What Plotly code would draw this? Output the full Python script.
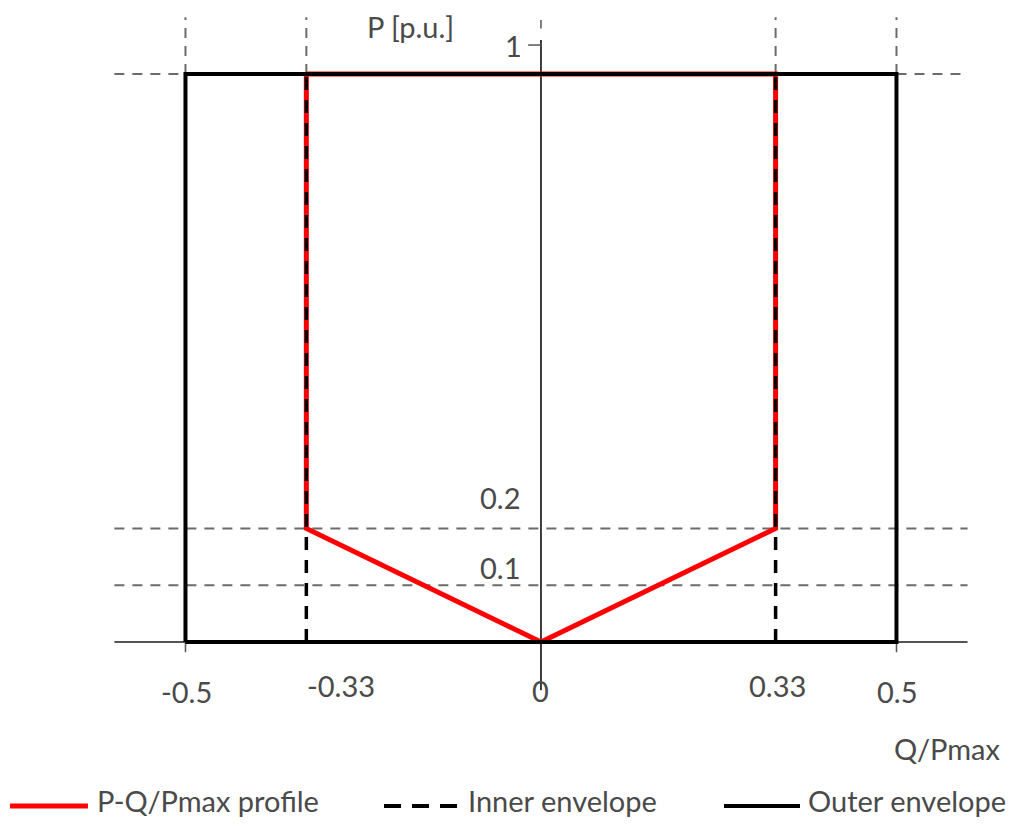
import plotly.graph_objects as go

# P-Q capability diagram data
q_outer = [-0.5, -0.5, 0.5, 0.5, -0.5]
p_outer = [0, 1, 1, 0, 0]

q_inner = [-0.33, -0.33, None, 0.33, 0.33]
p_inner = [0, 1, None, 0, 1]

q_profile = [-0.33, -0.33, 0, 0.33, 0.33, -0.33]
p_profile = [1, 0.2, 0, 0.2, 1, 1]

# guide levels and tick labels
p_guides = [0.1, 0.2]
q_guides = [-0.5, -0.33, 0.33, 0.5]
q_ticks = [-0.5, -0.33, 0, 0.33, 0.5]
q_tick_text = ["-0.5", "-0.33", "0", "0.33", "0.5"]
p_ticks = [0.1, 0.2]
p_tick_text = ["0.1", "0.2"]

legend_names = ["P-Q/Pmax profile", "Inner envelope", "Outer envelope"]

FONT = "Lato, Open Sans, sans-serif"
TXT = "#4a4a4a"
GUIDE = "#6b6b6b"

fig = go.Figure()

# draw order: profile, outer, inner (dashes on top of the red)
fig.add_trace(go.Scatter(
    x=q_profile, y=p_profile, mode="lines", name=legend_names[0],
    line=dict(color="#ff0000", width=5), showlegend=False
))
fig.add_trace(go.Scatter(
    x=q_outer, y=p_outer, mode="lines", name=legend_names[2],
    line=dict(color="black", width=4), showlegend=False
))
fig.add_trace(go.Scatter(
    x=q_inner, y=p_inner, mode="lines", name=legend_names[1],
    line=dict(color="black", width=3.5, dash="13px,10px"), showlegend=False
))

gdash = dict(color=GUIDE, width=2, dash="10px,8px")
shapes = []
# horizontal dashed guides across the whole chart
for p in p_guides:
    shapes.append(dict(type="line", xref="x", yref="y", x0=-0.6, x1=0.6, y0=p, y1=p,
                       line=gdash, layer="below"))
# P = 1 guide outside the outer envelope
shapes.append(dict(type="line", xref="x", yref="y", x0=-0.6, x1=-0.5, y0=1, y1=1,
                   line=gdash, layer="below"))
shapes.append(dict(type="line", xref="x", yref="y", x0=0.5, x1=0.6, y0=1, y1=1,
                   line=gdash, layer="below"))
# vertical dashed guides above the envelopes
for q in q_guides:
    shapes.append(dict(type="line", xref="x", yref="y", x0=q, x1=q, y0=1, y1=1.1,
                       line=gdash, layer="below"))
# Q axis
shapes.append(dict(type="line", xref="x", yref="y", x0=-0.6, x1=0.6, y0=0, y1=0,
                   line=dict(color="#555555", width=2), layer="below"))
for q in [-0.5, 0.5]:
    shapes.append(dict(type="line", xref="x", yref="y", x0=q, x1=q, y0=0, y1=-0.018,
                       line=dict(color="#555555", width=1.5), layer="below"))
# P axis
shapes.append(dict(type="line", xref="x", yref="y", x0=0, x1=0, y0=-0.085, y1=1.06,
                   line=dict(color="black", width=1.5), layer="below"))
shapes.append(dict(type="line", xref="x", yref="y", x0=0, x1=0, y0=1.08, y1=1.095,
                   line=dict(color="#555555", width=1.5), layer="below"))
shapes.append(dict(type="line", xref="x", yref="y", x0=-0.018, x1=0, y0=1.051, y1=1.051,
                   line=dict(color="#555555", width=1.5), layer="below"))

annotations = []
q_label_dx = [0.002, 0.049, 0, 0.003, 0.001]
q_label_y = [-0.088, -0.077, -0.085, -0.077, -0.088]
for q, t, dx, yy in zip(q_ticks, q_tick_text, q_label_dx, q_label_y):
    annotations.append(dict(x=q + dx, y=yy, text=t, showarrow=False, xref="x", yref="y"))
p_label_y = [0.132, 0.255]
for p, t, yy in zip(p_ticks, p_tick_text, p_label_y):
    annotations.append(dict(x=-0.058, y=yy, text=t, showarrow=False, xref="x", yref="y"))
annotations.append(dict(x=-0.039, y=1.051, text="1", showarrow=False, xref="x", yref="y"))
annotations.append(dict(x=-0.183, y=1.083, text="P [p.u.]", showarrow=False, xref="x", yref="y"))
annotations.append(dict(x=0.571, y=-0.187, text="Q/Pmax", showarrow=False, xref="x", yref="y"))

# legend row drawn by hand so the long sample lines match the source figure
leg_y = 0.0197
leg_text_y = 0.027
leg_samples = [
    dict(x0=0.002, x1=0.0794, line=dict(color="#ff0000", width=5)),
    dict(x0=0.3734, x1=0.4489, line=dict(color="black", width=4, dash="17px,11px")),
    dict(x0=0.711, x1=0.7865, line=dict(color="black", width=4)),
]
leg_text_x = [0.0864, 0.4548, 0.7925]
for s, name, tx in zip(leg_samples, legend_names, leg_text_x):
    shapes.append(dict(type="line", xref="paper", yref="paper", x0=s["x0"], x1=s["x1"],
                       y0=leg_y, y1=leg_y, line=s["line"]))
    annotations.append(dict(x=tx, y=leg_text_y, xref="paper", yref="paper", text=name,
                            showarrow=False, xanchor="left", yanchor="middle",
                            font=dict(size=29, color=TXT)))

fig.update_layout(
    width=1007, height=814,
    margin=dict(l=0, r=0, t=0, b=0),
    paper_bgcolor="white", plot_bgcolor="white",
    font=dict(family=FONT, size=29, color=TXT),
    xaxis=dict(range=[-0.7496, 0.6667], visible=False, fixedrange=True),
    yaxis=dict(range=[-0.3169, 1.1162], visible=False, fixedrange=True),
    shapes=shapes,
    annotations=annotations,
    showlegend=False,
)

fig.write_html("out.html")
